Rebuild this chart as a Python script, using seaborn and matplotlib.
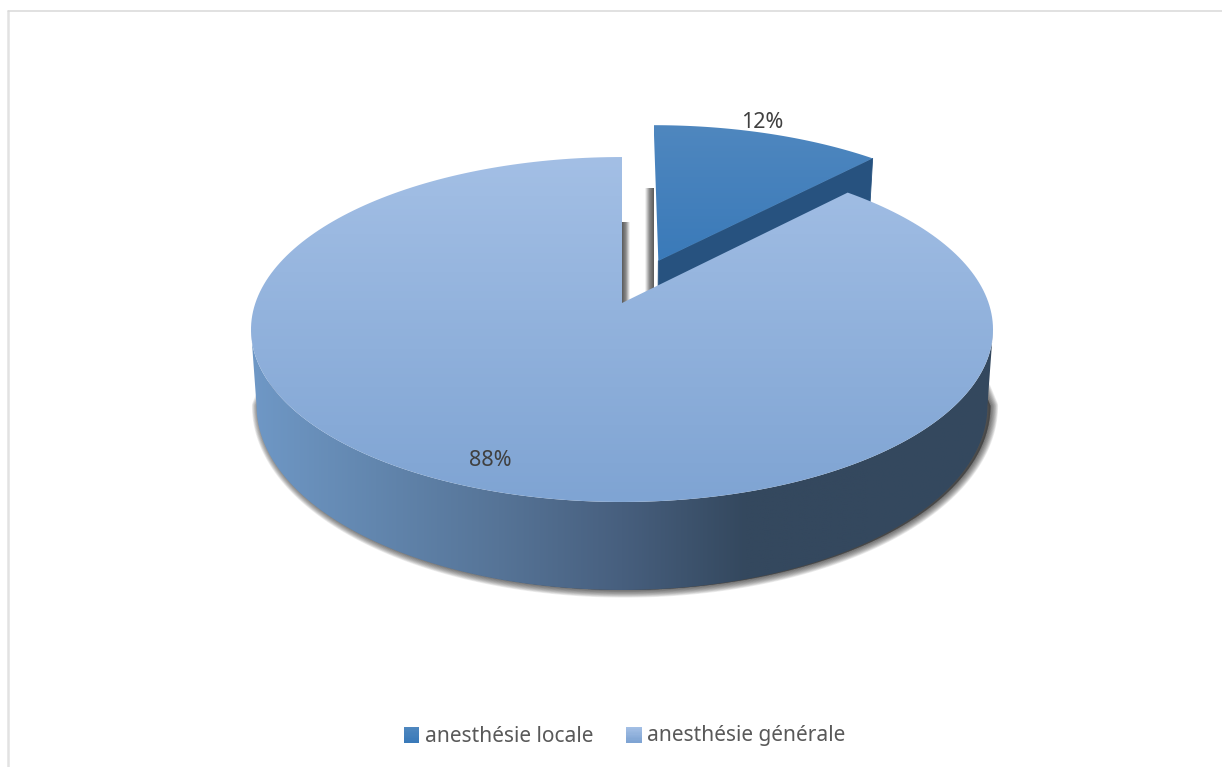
import numpy as np
import matplotlib
matplotlib.use("Agg")
import matplotlib.pyplot as plt
import seaborn as sns
from matplotlib.colors import LinearSegmentedColormap
from matplotlib.legend_handler import HandlerBase
from matplotlib.patches import PathPatch, Patch, Polygon, Rectangle
from matplotlib.path import Path

categories = ["anesthésie locale", "anesthésie générale"]
shares = [12, 88]
explode = [0.28, 0.0]

top_colors = [("#4f87bf", "#3a7ab9"), ("#a3bfe5", "#7fa4d3")]
rim_colors = ["#6f98c6", "#6286ae", "#567497", "#475f7e", "#34485e", "#34485e", "#34495f"]
edge_color = "#27527f"
text_color = "#404040"
legend_color = "#595959"

sns.set_theme(style="white")
plt.rcParams["font.family"] = ["Noto Sans", "DejaVu Sans"]

fig = plt.figure(figsize=(12.22, 7.67), dpi=100, facecolor="white")
ax = fig.add_axes([0, 0, 1, 1])
ax.set_xlim(0, 1222)
ax.set_ylim(767, 0)
ax.axis("off")

# Perspective projection of the disc onto the page.
HUB_X, HUB_Y = 622.0, 303.0
RADIUS_X, RADIUS_Y = 366.6, 168.4
TILT = 0.1536
DEPTH = 74.5
BASE_SCALE = 0.985


def project(px, py, level=0.0):
    """Map disc coordinates to page pixels; level 1 is the underside."""
    w = 1 + TILT * py
    scale = 1 - (1 - BASE_SCALE) * level
    return HUB_X + RADIUS_X * scale * px / w, HUB_Y + (DEPTH * level - RADIUS_Y * py) / w


def rim(a0, a1, off=(0.0, 0.0), level=0.0, n=240):
    t = np.radians(np.linspace(a0, a1, n))
    return np.column_stack(project(off[0] + np.sin(t), off[1] + np.cos(t), level))


def gradient_fill(pts, colors, horizontal=False, zorder=2):
    """Fill a polygon with a linear colour ramp."""
    cmap = LinearSegmentedColormap.from_list("ramp", list(colors))
    ramp = np.linspace(0, 1, 256)
    ramp = ramp[None, :] if horizontal else ramp[:, None]
    x0, y0 = pts.min(axis=0)
    x1, y1 = pts.max(axis=0)
    im = ax.imshow(ramp, cmap=cmap, extent=(x0, x1, y1, y0), aspect="auto", zorder=zorder,
                   interpolation="bilinear", vmin=0, vmax=1)
    patch = PathPatch(Path(np.vstack([pts, pts[0]]), closed=True), transform=ax.transData,
                      fc="none", ec="none")
    ax.add_patch(patch)
    im.set_clip_path(patch)
    return im


# Cumulative clockwise angles starting from twelve o'clock.
edges = np.concatenate([[0], np.cumsum(shares)]) * 3.6
spans = list(zip(edges[:-1], edges[1:]))
ax_limits = (ax.get_xlim(), ax.get_ylim())

offsets = []
for (a0, a1), d in zip(spans, explode):
    mid = np.radians((a0 + a1) / 2)
    offsets.append((d * np.sin(mid), d * np.cos(mid)))

turn = np.degrees(np.arccos(-TILT))

# Soft shadow under the front of the base, tapering up the sides of the wall.
shadow_shape = np.vstack([rim(turn + 14, 346 - turn, level=0.2), rim(360 - turn, turn, level=1.0)])
for lw in np.linspace(1, 11, 11):
    ax.add_patch(Polygon(shadow_shape + [3, 0], closed=True, fc="#303030", ec="#303030",
                         lw=lw, alpha=0.09, zorder=1, joinstyle="round"))

# Cast shadows along the two faces of the gap between the slices.
shadow_ramp = ["#5a5a5a", "#8a8a8a", "#ffffff"]
px, py = project(0.0, 1.0, 1.0)
strip = np.array([[px, py], [px + 8, py], [px + 8, py + 110], [px, py + 110]])
gradient_fill(strip, shadow_ramp, horizontal=True, zorder=1.5)
px, py = project(offsets[0][0], offsets[0][1] + 1.0, 1.0)
strip = np.array([[px - 8, py], [px + 1, py], [px + 1, py + 110], [px - 8, py + 110]])
gradient_fill(strip, shadow_ramp[::-1], horizontal=True, zorder=1.5)

# Detached slice: radial wall, then the top.
a0, a1 = spans[0]
off = offsets[0]
hub = np.array(project(off[0], off[1]))
hub_low = np.array(project(off[0], off[1], 1.0))
corner = rim(a1, a1, off, n=1)[0]
corner_low = rim(a1, a1, off, level=1.0, n=1)[0]
ax.add_patch(Polygon([hub, corner, corner_low, hub_low], closed=True, fc=edge_color,
                     ec=edge_color, lw=0.6, zorder=2))
small_top = np.vstack([[hub], rim(a0, a1, off)])
gradient_fill(small_top, top_colors[0], zorder=3)

# Large slice: front wall with a left-to-right shade, then the top face.
a0, a1 = spans[1]
front = np.vstack([rim(turn, 360 - turn), rim(360 - turn, turn, level=1.0)])
gradient_fill(front, rim_colors, horizontal=True, zorder=4)
large_top = np.vstack([[project(0, 0)], rim(a0, a1)])
gradient_fill(large_top, top_colors[1], zorder=5)

ax.set_xlim(*ax_limits[0])
ax.set_ylim(*ax_limits[1])

# Percentage labels.
label_positions = [(762, 123), (490, 461)]
for share, (lx, ly) in zip(shares, label_positions):
    ax.text(lx, ly, f"{share}%", color=text_color, fontsize=15.5, ha="center", va="center", zorder=6)


class RampSwatch(HandlerBase):
    """Legend key shaded from top to bottom like its slice."""

    def __init__(self, pair):
        super().__init__()
        self.cmap = LinearSegmentedColormap.from_list("swatch", list(pair))

    def create_artists(self, legend, orig_handle, xdescent, ydescent, width, height, fontsize, trans):
        bands = 12
        size = height * 1.08
        y0 = -ydescent - 0.08 * height
        return [Rectangle((-xdescent + width - size, y0 + size * (bands - 1 - i) / bands),
                          size, size / bands + 0.2, fc=self.cmap(i / (bands - 1)), ec="none",
                          transform=trans)
                for i in range(bands)]


handles = [Patch(label=name) for name in categories]
legend = ax.legend(handles=handles, labels=categories, ncol=2, frameon=False,
                   loc="center", bbox_to_anchor=(625.5, 736), bbox_transform=ax.transData,
                   prop={"size": 15, "weight": "medium"}, labelcolor=legend_color,
                   handlelength=0.68, handletextpad=0.25, columnspacing=1.68, borderpad=0,
                   handler_map={handles[i]: RampSwatch(top_colors[i]) for i in range(2)})
legend.set_zorder(6)

# Light frame of the chart area.
ax.plot([7.5, 7.5], [767, 10.5], color="#e2e2e2", lw=1.8, zorder=0.5)
ax.plot([7.5, 1222], [10.5, 10.5], color="#d9d9d9", lw=1.1, zorder=0.5)

fig.savefig("out.png", dpi=100)
